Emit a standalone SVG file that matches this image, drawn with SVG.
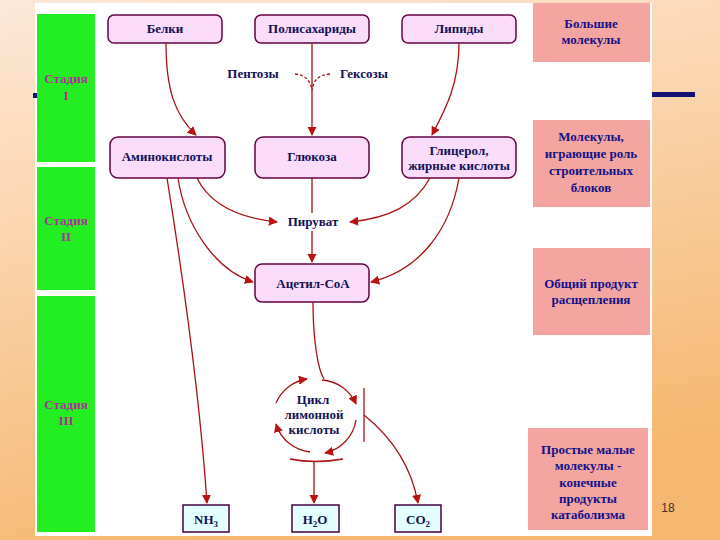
<svg xmlns="http://www.w3.org/2000/svg" width="720" height="540" viewBox="0 0 720 540">
<defs>
<linearGradient id="bg" x1="0" y1="0" x2="0.3" y2="1"><stop offset="0" stop-color="#fde8d8"/><stop offset="1" stop-color="#f6b870"/></linearGradient>
<marker id="a" viewBox="0 0 10 10" refX="9" refY="5" markerWidth="7" markerHeight="7" orient="auto"><path d="M0,0L10,5L0,10z" fill="#bb1111"/></marker>
<style>
.n{fill:#fbdcfb;stroke:#660044;stroke-width:1.5}
.s{fill:#e4ffff;stroke:#440044;stroke-width:1.5}
.p{fill:#f5a5a0}
.g{fill:#22ee22}
text{font-family:"Liberation Serif",serif;font-weight:bold;font-size:13px;fill:#111155;text-anchor:middle}
.st{fill:#aa3399}
.r{fill:#111188;font-size:13px}
.c path,.c line{fill:none;stroke:#aa1111;stroke-width:1.3}
</style>
</defs>
<rect width="720" height="540" fill="url(#bg)"/>
<rect x="35" y="3" width="617" height="533" fill="#ffffff"/>
<rect x="33" y="93" width="4" height="5" fill="#111177"/>
<rect x="652" y="92" width="43" height="5" fill="#111177"/>
<g id="stage1"><rect class="g" x="37" y="14" width="58" height="148"/><text class="st" x="66" y="83">Стадия</text><text class="st" x="66" y="100">I</text></g>
<g id="stage2"><rect class="g" x="37" y="167" width="58" height="123"/><text class="st" x="66" y="225">Стадия</text><text class="st" x="66" y="241">II</text></g>
<g id="stage3"><rect class="g" x="37" y="296" width="58" height="236"/><text class="st" x="66" y="409">Стадия</text><text class="st" x="66" y="425">III</text></g>
<g id="belki"><rect class="n" x="108" y="15" width="114" height="28" rx="6"/><text x="165" y="33">Белки</text></g>
<g id="poly"><rect class="n" x="255" y="15" width="114" height="28" rx="6"/><text x="312" y="33">Полисахариды</text></g>
<g id="lip"><rect class="n" x="402" y="15" width="114" height="28" rx="6"/><text x="459" y="33">Липиды</text></g>
<g id="amino"><rect class="n" x="110" y="137" width="115" height="41" rx="8"/><text x="167" y="161">Аминокислоты</text></g>
<g id="gluc"><rect class="n" x="255" y="137" width="114" height="41" rx="8"/><text x="312" y="161">Глюкоза</text></g>
<g id="glyc"><rect class="n" x="402" y="137" width="114" height="41" rx="8"/><text x="459" y="155">Глицерол,</text><text x="459" y="170">жирные кислоты</text></g>
<g id="acetyl"><rect class="n" x="255" y="264" width="114" height="38" rx="7"/><text x="313" y="288">Ацетил-CoA</text></g>
<g id="nh3"><rect class="s" x="183" y="505" width="46" height="27"/><text x="206" y="524">NH<tspan font-size="9" dy="3">3</tspan></text></g>
<g id="h2o"><rect class="s" x="292" y="505" width="47" height="27"/><text x="315" y="524">H<tspan font-size="9" dy="3">2</tspan><tspan dy="-3">O</tspan></text></g>
<g id="co2"><rect class="s" x="395" y="505" width="46" height="27"/><text x="418" y="524">CO<tspan font-size="9" dy="3">2</tspan></text></g>
<g id="r1"><rect class="p" x="533" y="3" width="117" height="59"/><text class="r" x="591" y="28">Большие</text><text class="r" x="591" y="44">молекулы</text></g>
<g id="r2"><rect class="p" x="533" y="120" width="117" height="87"/><text class="r" x="591" y="141">Молекулы,</text><text class="r" x="591" y="158">играющие роль</text><text class="r" x="591" y="175">строительных</text><text class="r" x="591" y="192">блоков</text></g>
<g id="r3"><rect class="p" x="533" y="248" width="117" height="87"/><text class="r" x="591" y="288">Общий продукт</text><text class="r" x="591" y="304">расщепления</text></g>
<g id="r4"><rect class="p" x="528" y="428" width="120" height="102"/><text class="r" x="588" y="454">Простые малые</text><text class="r" x="588" y="470">молекулы -</text><text class="r" x="588" y="487">конечные</text><text class="r" x="588" y="503">продукты</text><text class="r" x="588" y="519">катаболизма</text></g>
<text x="253" y="78">Пентозы</text>
<text x="364" y="78">Гексозы</text>
<text x="313" y="226">Пируват</text>
<text x="313" y="404">Цикл</text><text x="314" y="419">лимонной</text><text x="314" y="434">кислоты</text>
<text x="668" y="512" style="font-family:'Liberation Sans',sans-serif;font-weight:normal;font-size:12px;fill:#333">18</text>
<g class="c">
<path d="M166,43 C166,90 175,115 196,135" marker-end="url(#a)"/>
<path d="M312,43 L312,135" marker-end="url(#a)"/>
<path d="M295,74 C305,75 310,80 312,90 M330,74 C318,75 314,80 312,90" stroke-dasharray="3,2"/>
<path d="M459,43 C459,85 445,110 432,135" marker-end="url(#a)"/>
<path d="M197,178 C210,205 240,218 277,222" marker-end="url(#a)"/>
<path d="M430,178 C415,205 390,218 350,222" marker-end="url(#a)"/>
<path d="M312,178 L312,213"/>
<path d="M312,231 L312,262" marker-end="url(#a)"/>
<path d="M178,178 C185,225 215,270 253,282" marker-end="url(#a)"/>
<path d="M459,178 C450,230 420,270 371,282" marker-end="url(#a)"/>
<path d="M167,178 C185,290 200,400 207,503" marker-end="url(#a)"/>
<path d="M313,302 C313,340 318,370 324,379"/>
<path d="M322,380 A40,40 0 0 1 356,404" marker-end="url(#a)"/>
<path d="M356,420 A40,40 0 0 1 325,453" marker-end="url(#a)"/>
<path d="M310,452 A40,40 0 0 1 276,424" marker-end="url(#a)"/>
<path d="M276,403 A40,40 0 0 1 307,379" marker-end="url(#a)"/>
<line x1="364" y1="388" x2="364" y2="442"/>
<path d="M290,459 Q315,464 343,459"/>
<path d="M314,462 L314,503" marker-end="url(#a)"/>
<path d="M364,415 C395,440 412,470 418,503" marker-end="url(#a)"/>
</g>
</svg>
